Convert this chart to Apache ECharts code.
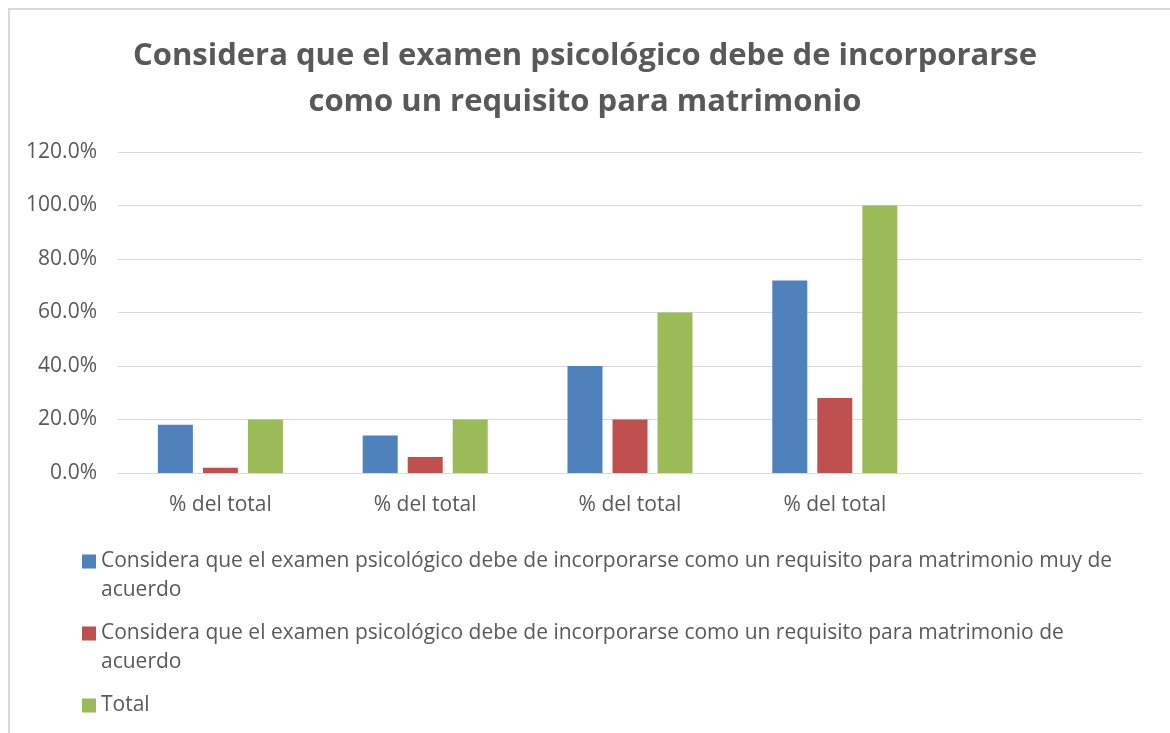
<!DOCTYPE html>
<html>
<head>
<meta charset="utf-8">
<title>Examen psicológico</title>
<style>
  html, body { margin: 0; padding: 0; background: #fff; }
  #container { width: 1170px; height: 733px; }
</style>
</head>
<body>
<div id="container"></div>
<script src="https://cdn.jsdelivr.net/npm/echarts@6/dist/echarts.min.js"></script>
<script>
// datos (en %)
var categorias = ['% del total', '% del total', '% del total', '% del total', ''];
var muyDeAcuerdo = [18, 14, 40, 72, null];
var deAcuerdo = [2, 6, 20, 28, null];
var total = [20, 20, 60, 100, null];

var nombres = [
  'Considera que el examen psicológico debe de incorporarse como un requisito para matrimonio muy de acuerdo',
  'Considera que el examen psicológico debe de incorporarse como un requisito para matrimonio de acuerdo',
  'Total'
];
var colores = ['#4F81BD', '#C0504D', '#9BBB59'];

var fuente = '"Open Sans", Lato, sans-serif';
var gris = '#595959';

// cuadrito arriba (texto de dos líneas) / centrado (una línea)
var iconoArriba = 'path://M0,0h14v14h-14z M0,43h1';
var iconoCentro = 'path://M0,0h1 M0,14.5h14v14h-14z M0,43h1';

var myChart = echarts.init(document.getElementById('container'));

var option = {
  animation: false,
  color: colores,
  title: {
    text: 'Considera que el examen psicológico debe de incorporarse\ncomo un requisito para matrimonio',
    left: 'center',
    top: 28,
    textStyle: {
      fontFamily: fuente,
      fontWeight: 'bold',
      fontSize: 31,
      lineHeight: 46,
      color: gris
    }
  },
  graphic: [{
    type: 'polyline',
    shape: { points: [[9, 733], [9, 9], [1170, 9]] },
    style: { stroke: '#D9D9D9', lineWidth: 2, fill: null }
  }],
  grid: {
    left: 118,
    right: 28,
    top: 152,
    bottom: 260
  },
  legend: {
    orient: 'vertical',
    left: 77,
    top: 535,
    itemWidth: 14,
    itemHeight: 43,
    itemGap: 7,
    data: [
      { name: nombres[0], icon: iconoArriba, textStyle: { padding: [0, 0, 14, 0] } },
      { name: nombres[1], icon: iconoArriba },
      { name: nombres[2], icon: iconoCentro }
    ],
    textStyle: {
      fontFamily: fuente,
      fontSize: 21,
      lineHeight: 29,
      color: gris,
      width: 1040,
      overflow: 'break'
    }
  },
  xAxis: {
    type: 'category',
    data: categorias,
    axisLine: { lineStyle: { color: '#D9D9D9', width: 1 } },
    axisTick: { show: false },
    axisLabel: {
      interval: 0,
      margin: 22,
      fontFamily: fuente,
      fontSize: 21,
      color: gris
    }
  },
  yAxis: {
    type: 'value',
    min: 0,
    max: 120,
    interval: 20,
    axisLine: { show: false },
    axisTick: { show: false },
    splitLine: { lineStyle: { color: '#D9D9D9', width: 1 } },
    axisLabel: {
      margin: 21,
      fontFamily: fuente,
      fontSize: 21,
      color: gris,
      formatter: function (v) { return v.toFixed(1) + '%'; }
    }
  },
  series: [
    { name: nombres[0], type: 'bar', data: muyDeAcuerdo, barWidth: 35, barGap: '28.6%' },
    { name: nombres[1], type: 'bar', data: deAcuerdo, barWidth: 35, barGap: '28.6%' },
    { name: nombres[2], type: 'bar', data: total, barWidth: 35, barGap: '28.6%' }
  ]
};

myChart.setOption(option);
</script>
</body>
</html>
